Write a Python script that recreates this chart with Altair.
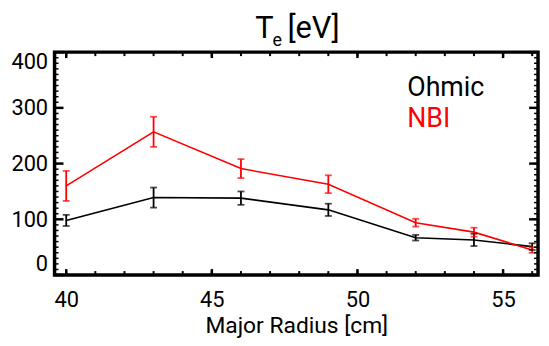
import altair as alt
import pandas as pd

# ---- data ----
radius = [40, 43, 46, 49, 52, 54, 56]
te_ohmic = [98, 139, 138, 117, 67, 63, 51]
err_ohmic = [10, 18, 12, 11, 5, 11, 6]
te_nbi = [160, 257, 191, 163, 94, 77, 45]
err_nbi = [27, 27, 17, 16, 7, 8, 5]
series = ["Ohmic", "NBI"]
colors = ["#000000", "#ff0000"]

y_major = [0, 100, 200, 300, 400]
y_minor = list(range(0, 401, 10))
x_major = [40, 45, 50, 55]
x_minor = list(range(40, 57))

rows = []
for s, vals, errs in [("Ohmic", te_ohmic, err_ohmic), ("NBI", te_nbi, err_nbi)]:
    for r, v, e in zip(radius, vals, errs):
        rows.append({"r": r, "te": v, "lo": v - e, "hi": v + e, "series": s})
df = pd.DataFrame(rows)

W, H = 488, 225
FONT = "Roboto, Liberation Sans, sans-serif"

xs = alt.Scale(domain=[39.6, 56.2], nice=False, zero=False)
ys = alt.Scale(domain=[0, 400], nice=False, zero=False)
cs = alt.Scale(domain=series, range=colors)

xaxis = alt.Axis(values=x_major, ticks=False, domain=False, grid=False,
                 labelFont=FONT, labelFontSize=22, labelColor="black",
                 labelPadding=15, labelFlush=False,
                 title="Major Radius [cm]", titleFont=FONT, titleFontSize=23,
                 titleFontWeight="normal", titleColor="black",
                 titleBaseline="alphabetic", titleY=58)
yaxis = alt.Axis(values=y_major, ticks=False, domain=False, grid=False,
                 labelFont=FONT, labelFontSize=22, labelColor="black",
                 labelPadding=7, labelFlush=True, title=None)

base = alt.Chart(df)
lines = base.mark_line(strokeWidth=1.6, clip=True).encode(
    x=alt.X("r:Q", scale=xs, axis=xaxis),
    y=alt.Y("te:Q", scale=ys, axis=yaxis),
    color=alt.Color("series:N", scale=cs, legend=None),
    order="r:Q",
)
bars = base.mark_rule(strokeWidth=1.8).encode(
    x=alt.X("r:Q", scale=xs), y=alt.Y("lo:Q", scale=ys), y2="hi:Q",
    color=alt.Color("series:N", scale=cs, legend=None),
)
cap_lo = base.mark_tick(orient="horizontal", size=7, thickness=1.8).encode(
    x=alt.X("r:Q", scale=xs), y=alt.Y("lo:Q", scale=ys),
    color=alt.Color("series:N", scale=cs, legend=None),
)
cap_hi = base.mark_tick(orient="horizontal", size=7, thickness=1.8).encode(
    x=alt.X("r:Q", scale=xs), y=alt.Y("hi:Q", scale=ys),
    color=alt.Color("series:N", scale=cs, legend=None),
)

# inward tick marks on all four sides
ymaj = pd.DataFrame({"v": y_major})
ymin = pd.DataFrame({"v": y_minor})
xmaj = pd.DataFrame({"v": x_major})
xmin = pd.DataFrame({"v": x_minor})
tick_layers = []
for d, ln, sw in [(ymaj, 9, 2.5), (ymin, 4, 1.5)]:
    tick_layers.append(alt.Chart(d).mark_rule(color="black", strokeWidth=sw).encode(
        y=alt.Y("v:Q", scale=ys), x=alt.value(0), x2=alt.value(ln)))
    tick_layers.append(alt.Chart(d).mark_rule(color="black", strokeWidth=sw).encode(
        y=alt.Y("v:Q", scale=ys), x=alt.value(W), x2=alt.value(W - ln)))
for d, ln, sw in [(xmaj, 6, 2.5), (xmin, 4, 2)]:
    tick_layers.append(alt.Chart(d).mark_rule(color="black", strokeWidth=sw).encode(
        x=alt.X("v:Q", scale=xs), y=alt.value(H), y2=alt.value(H - ln)))
    tick_layers.append(alt.Chart(d).mark_rule(color="black", strokeWidth=sw).encode(
        x=alt.X("v:Q", scale=xs), y=alt.value(0), y2=alt.value(ln)))


def label(text, x, y, size, color="black", align="left"):
    return alt.Chart(pd.DataFrame({"t": [text]})).mark_text(
        align=align, baseline="alphabetic", font=FONT, fontSize=size, color=color
    ).encode(x=alt.value(x), y=alt.value(y), text="t:N")


# legend text
leg_ohmic = label(series[0], 356, 44, 27, colors[0])
leg_nbi = label(series[1], 356, 76, 27, colors[1])

# title T_e [eV]
title_T = label("T", 221, -14, 31, align="right")
title_e = label("e", 220, -6, 18)
title_rest = label("[eV]", 235, -14, 31)

chart = alt.layer(
    lines, bars, cap_lo, cap_hi, *tick_layers,
    leg_ohmic, leg_nbi, title_T, title_e, title_rest
).properties(
    width=W, height=H,
    autosize=alt.AutoSizeParams(type="none"),
    padding={"left": 47, "top": 43, "right": 3, "bottom": 62},
    background="white",
).configure_view(stroke="black", strokeWidth=3.5)

chart.save("out.html", embed_options={"renderer": "svg", "actions": False})
